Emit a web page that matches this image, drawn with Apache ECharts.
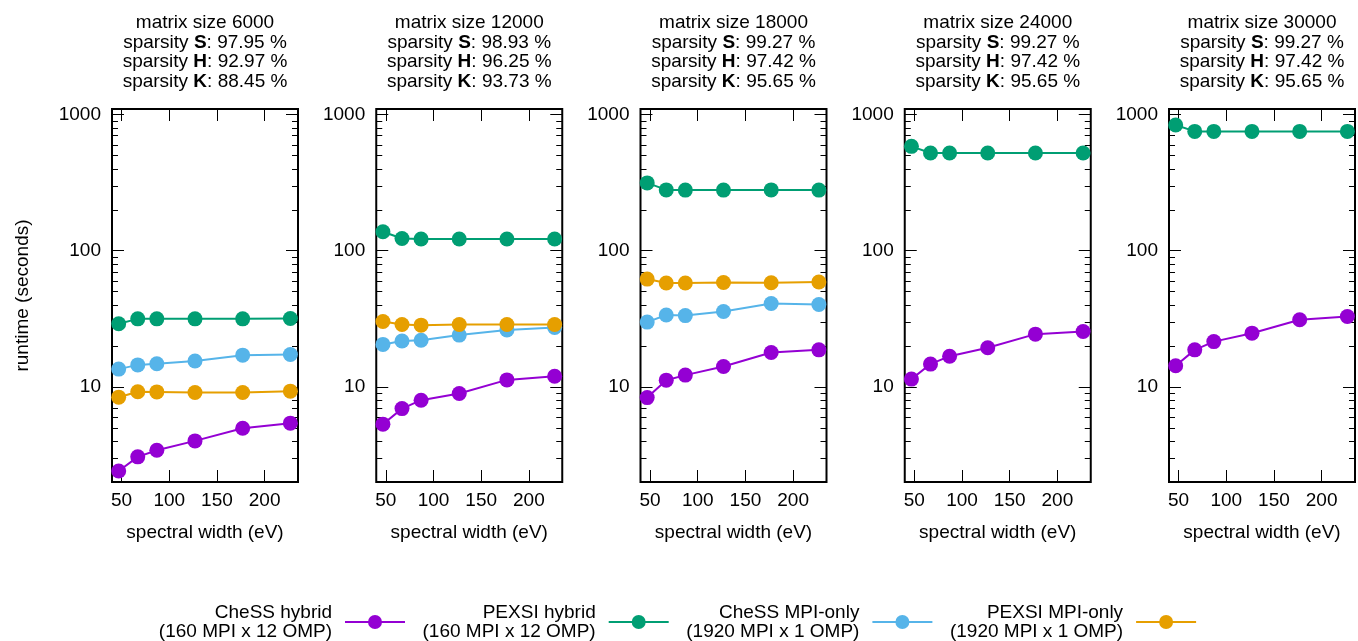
<!DOCTYPE html>
<html><head><meta charset="utf-8">
<script src="https://cdn.jsdelivr.net/npm/echarts@6/dist/echarts.min.js"></script>
<style>html,body{margin:0;padding:0;background:#fff}#c{width:1358px;height:641px}</style>
</head><body><div id="c"></div>
<script>
// ---- data ----
const matrixSizes = [6000, 12000, 18000, 24000, 30000];
const sparsityS = [97.95, 98.93, 99.27, 99.27, 99.27];
const sparsityH = [92.97, 96.25, 97.42, 97.42, 97.42];
const sparsityK = [88.45, 93.73, 95.65, 95.65, 95.65];
const spectralWidths = [47, 67, 87, 127, 177, 227];
const xTicks = [50, 100, 150, 200];
const yTicks = [10, 100, 1000];
const yMinorTicks = [3, 4, 5, 6, 7, 8, 9, 20, 30, 40, 50, 60, 70, 80, 90, 200, 300, 400, 500, 600, 700, 800, 900];
const seriesNames = ['CheSS hybrid', 'PEXSI hybrid', 'CheSS MPI-only', 'PEXSI MPI-only'];
const seriesSub = ['(160 MPI x 12 OMP)', '(160 MPI x 12 OMP)', '(1920 MPI x 1 OMP)', '(1920 MPI x 1 OMP)'];
const chessHybrid = [
  [2.41, 3.06, 3.42, 4.01, 4.97, 5.41],
  [5.32, 6.92, 7.98, 8.93, 11.25, 11.98],
  [8.34, 11.2, 12.2, 14.1, 17.9, 18.7],
  [11.4, 14.7, 16.8, 19.4, 24.4, 25.5],
  [14.3, 18.7, 21.5, 24.8, 31.1, 32.9]
];
const pexsiHybrid = [
  [29.1, 31.6, 31.6, 31.6, 31.6, 31.8],
  [138, 123, 122, 122, 122, 122],
  [315, 280, 279, 279, 280, 279],
  [585, 522, 522, 522, 522, 522],
  [840, 753, 753, 753, 753, 753]
];
const chessMpiOnly = [
  [13.5, 14.5, 14.8, 15.5, 17.1, 17.3],
  [20.5, 21.7, 22.0, 24.0, 26.2, 27.3],
  [29.9, 33.7, 33.4, 35.8, 41.0, 40.3],
  null,
  null
];
const pexsiMpiOnly = [
  [8.4, 9.2, 9.18, 9.1, 9.1, 9.3],
  [30.2, 28.7, 28.4, 28.7, 28.7, 28.7],
  [61.9, 57.9, 57.9, 58.5, 58.2, 58.9],
  null,
  null
];
const allSeries = [chessHybrid, pexsiHybrid, chessMpiOnly, pexsiMpiOnly];
const colors = ['#9400d3', '#009e73', '#56b4e9', '#e69f00'];

// ---- layout ----
const FONT = 'Liberation Sans, Arial, Helvetica, sans-serif';
const GRID_LEFT0 = 112, GRID_STEP = 264.25, GRID_W = 186, GRID_TOP = 109, GRID_H = 373;
const XMIN = 40, XMAX = 235, YMIN = 2, YMAX = 1100;
const txt = {color: '#000', fontSize: 19, fontFamily: FONT};

const grids = [], xAxes = [], yAxes = [], series = [], titles = [], legends = [];
for (let p = 0; p < matrixSizes.length; p++) {
  const left = GRID_LEFT0 + p * GRID_STEP;
  grids.push({left: left, top: GRID_TOP, width: GRID_W, height: GRID_H, show: true,
    borderColor: '#000', borderWidth: 2, backgroundColor: 'transparent', outerBoundsMode: 'none', containLabel: false});
  const tickStyle = {color: '#000', width: 1};
  xAxes.push({gridIndex: p, type: 'value', position: 'bottom', min: XMIN, max: XMAX,
    axisLine: {show: false, onZero: false},
    axisTick: {show: true, inside: true, length: 12, customValues: xTicks, lineStyle: tickStyle},
    axisLabel: Object.assign({customValues: xTicks, margin: 9, formatter: (v) => String(v)}, txt),
    splitLine: {show: false},
    name: 'spectral width (eV)', nameLocation: 'middle', nameGap: 41, nameTextStyle: txt});
  xAxes.push({gridIndex: p, type: 'value', position: 'top', min: XMIN, max: XMAX,
    axisLine: {show: false, onZero: false},
    axisTick: {show: true, inside: true, length: 12, customValues: xTicks, lineStyle: tickStyle},
    axisLabel: {show: false}, splitLine: {show: false}});
  const yBase = {gridIndex: p, type: 'log', logBase: 10, min: YMIN, max: YMAX,
    axisLine: {show: false, onZero: false}, splitLine: {show: false}, minorTick: {show: false}};
  yAxes.push(Object.assign({}, yBase, {position: 'left',
    axisTick: {show: true, inside: true, length: 12, customValues: yTicks, lineStyle: tickStyle},
    axisLabel: Object.assign({customValues: yTicks, margin: 11, formatter: (v) => String(Math.round(v))}, txt)},
    p === 0 ? {name: 'runtime (seconds)', nameLocation: 'middle', nameGap: 80, nameRotate: 90, nameTextStyle: txt} : {}));
  yAxes.push(Object.assign({}, yBase, {position: 'left',
    axisTick: {show: true, inside: true, length: 6, customValues: yMinorTicks, lineStyle: tickStyle},
    axisLabel: {show: false}}));
  yAxes.push(Object.assign({}, yBase, {position: 'right',
    axisTick: {show: true, inside: true, length: 12, customValues: yTicks, lineStyle: tickStyle},
    axisLabel: {show: false}}));
  yAxes.push(Object.assign({}, yBase, {position: 'right',
    axisTick: {show: true, inside: true, length: 6, customValues: yMinorTicks, lineStyle: tickStyle},
    axisLabel: {show: false}}));

  for (let s = 0; s < allSeries.length; s++) {
    const vals = allSeries[s][p];
    if (!vals) continue;
    series.push({type: 'line', name: seriesNames[s], xAxisIndex: p * 2, yAxisIndex: p * 4,
      data: spectralWidths.map((x, j) => [x, vals[j]]),
      symbol: 'circle', symbolSize: 15, color: colors[s],
      lineStyle: {width: 2, color: colors[s]}, itemStyle: {color: colors[s]},
      z: 2 + s, animation: false, emphasis: {disabled: true}});
  }

  titles.push({
    text: 'matrix size ' + matrixSizes[p] +
      '\nsparsity {b|S}: ' + sparsityS[p].toFixed(2) + ' %' +
      '\nsparsity {b|H}: ' + sparsityH[p].toFixed(2) + ' %' +
      '\nsparsity {b|K}: ' + sparsityK[p].toFixed(2) + ' %',
    left: left + GRID_W / 2, top: 13.5, textAlign: 'center', padding: 0,
    textStyle: {color: '#000', fontSize: 19, fontWeight: 'normal', fontFamily: FONT, lineHeight: 19.5,
      rich: {b: {fontWeight: 'bold', fontSize: 19, fontFamily: FONT, color: '#000', lineHeight: 19.5}}}
  });
}

for (let s = 0; s < seriesNames.length; s++) {
  const lineEnd = 406 + s * 263.7;
  legends.push({data: [seriesNames[s]], right: 1358 - lineEnd, top: 603, orient: 'horizontal', align: 'right',
    itemWidth: 60, itemHeight: 17.5, padding: 0, selectedMode: false,
    formatter: (n) => n + '\n' + seriesSub[s],
    textStyle: {color: '#000', fontSize: 19, fontFamily: FONT, lineHeight: 19, padding: [0, 8, 0, 0]}});
}

const chart = echarts.init(document.getElementById('c'), null, {renderer: 'canvas'});
chart.setOption({
  animation: false, backgroundColor: '#fff',
  title: titles, legend: legends, grid: grids, xAxis: xAxes, yAxis: yAxes, series: series
});
</script></body></html>
